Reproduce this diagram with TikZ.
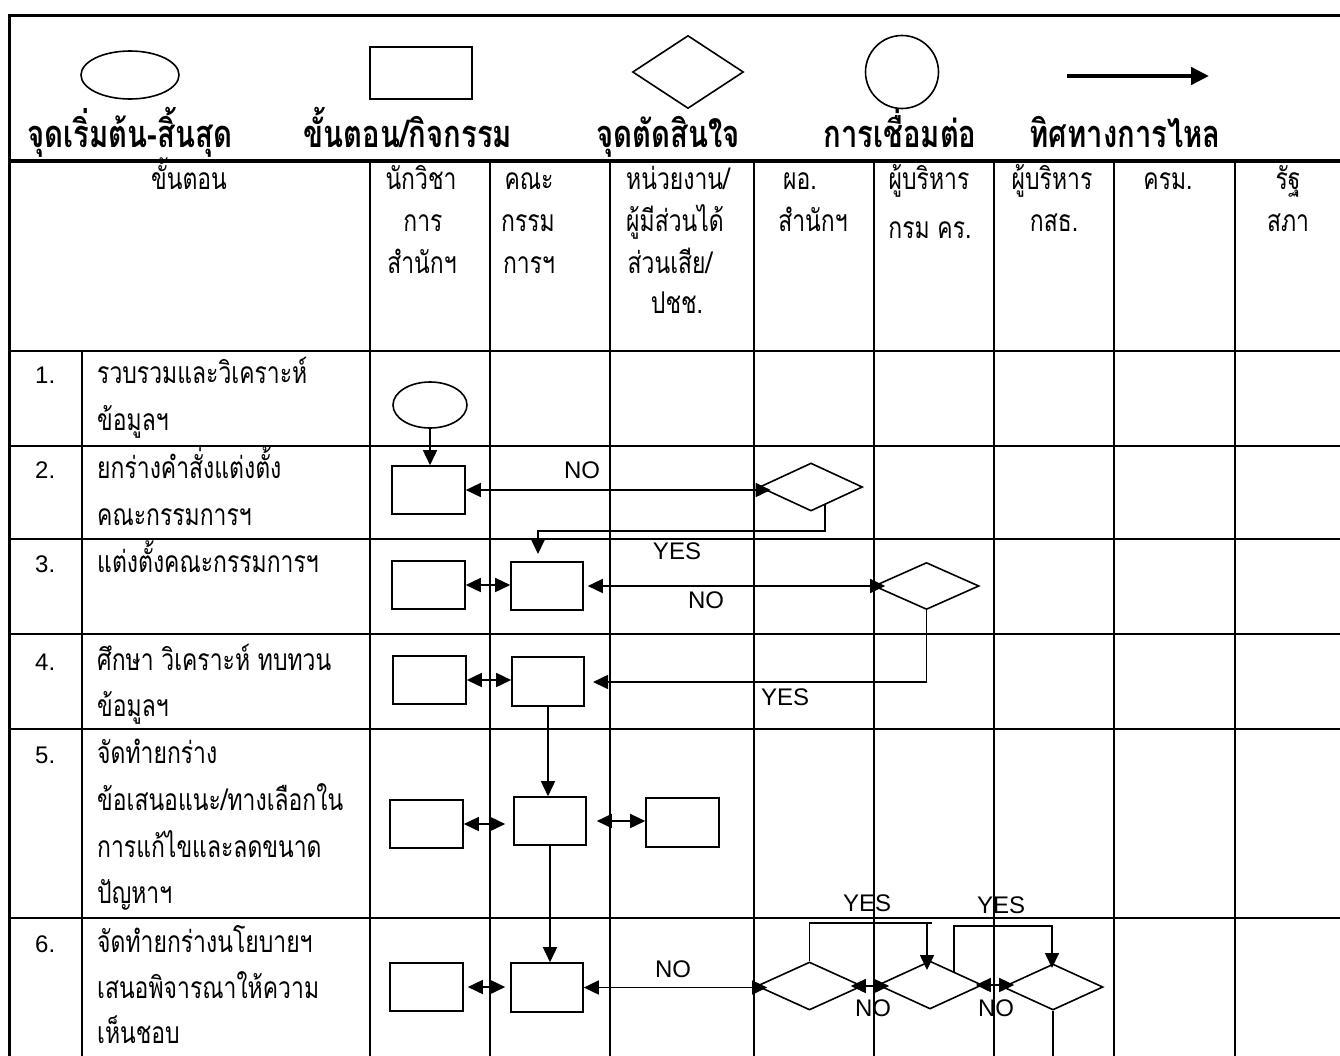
\documentclass[tikz,border=0pt]{standalone}
\usepackage{fontspec}
\setmainfont{Liberation Sans}
\newfontfamily\thai[Script=Thai,FakeStretch=0.765]{Loma}
\newfontfamily\thaib[Script=Thai,FakeStretch=0.77]{Loma}
\usetikzlibrary{shapes.geometric,arrows.meta,calc}
\begin{document}
\begin{tikzpicture}[x=1pt,y=-1pt,
  >={Triangle[length=15pt,width=14pt]},
  gridl/.style={line width=2.2pt},
  shp/.style={draw,line width=1.6pt,inner sep=0pt},
  box/.style={shp,rectangle,minimum width=73pt,minimum height=48pt},
  dec/.style={shp,diamond,minimum width=104pt,minimum height=48pt},
  conn/.style={line width=1.6pt},
  th/.style={font=\thai\fontsize{30}{32}\selectfont,inner sep=0pt},
  thl/.style={th,anchor=base west},
  thc/.style={th,anchor=base},
  lg/.style={font=\thaib\bfseries\fontsize{38}{40}\selectfont,inner sep=0pt,anchor=base},
  lat/.style={font=\fontsize{24}{26}\selectfont,inner sep=0pt,anchor=base},
  num/.style={font=\fontsize{24}{26}\selectfont,inner sep=0pt,anchor=base west},
]
\useasboundingbox (0,0) rectangle (1340,1055);
\clip (0,0) rectangle (1340,1055);
\fill[white] (0,0) rectangle (1340,1055);

% ---------- legend ----------
\node[shp,ellipse,minimum width=98pt,minimum height=48pt] (lgE) at (130,75) {};
\node[shp,rectangle,minimum width=102pt,minimum height=52pt] (lgR) at (421,73) {};
\node[shp,diamond,minimum width=111pt,minimum height=73pt] (lgD) at (688,72) {};
\node[shp,circle,minimum size=73pt] (lgC) at (902,72) {};
\coordinate (lgA1) at (1067,76);
\coordinate (lgA2) at (1209,76);
\draw[line width=4.5pt,-{Triangle[length=18pt,width=17pt]}] (lgA1) -- (lgA2);
\node[lg] (lgt1) at (130,147) {จุดเริ่มต้น-สิ้นสุด};
\node[lg] (lgt2) at (408,147) {ขั้นตอน/กิจกรรม};
\node[lg] (lgt3) at (668,147) {จุดตัดสินใจ};
\node[lg] (lgt4) at (900,147) {การเชื่อมต่อ};
\node[lg] (lgt5) at (1125,147) {ทิศทางการไหล};

% ---------- grid ----------
\draw[line width=3pt,line join=miter] (9,1070) -- (9,15) -- (1360,15);
\draw[line width=3.5pt] (9,161) -- (1360,161);
\foreach \yy in {351,446,539,634,729,918} \draw[gridl] (9,\yy) -- (1360,\yy);
\foreach \xx in {370,490,610,754,874,994,1114,1235} \draw[gridl] (\xx,161) -- (\xx,1070);
\draw[gridl] (82,351) -- (82,1070);

% ---------- header ----------
\node[thc] (h0) at (189,189) {ขั้นตอน};
\node[thc] (h1a) at (421,189) {นักวิชา};
\node[thc] (h1b) at (423,231) {การ};
\node[thc] (h1c) at (422,273) {สำนักฯ};
\node[thc] (h2a) at (529,189) {คณะ};
\node[thc] (h2b) at (528,231) {กรรม};
\node[thc] (h2c) at (529,273) {การฯ};
\node[thc] (h3a) at (678,189) {หน่วยงาน/};
\node[thc] (h3b) at (675,231) {ผู้มีส่วนได้};
\node[thc] (h3c) at (670,273) {ส่วนเสีย/};
\node[thc] (h3d) at (677,313) {ปชช.};
\node[thc] (h4a) at (800,189) {ผอ.};
\node[thc] (h4b) at (813,231) {สำนักฯ};
\node[thc] (h5a) at (929,189) {ผู้บริหาร};
\node[thc] (h5b) at (930,238) {กรม คร.};
\node[thc] (h6a) at (1052,189) {ผู้บริหาร};
\node[thc] (h6b) at (1054,231) {กสธ.};
\node[thc] (h7a) at (1168,189) {ครม.};
\node[thc] (h8a) at (1288,189) {รัฐ};
\node[thc] (h8b) at (1288,231) {สภา};

% ---------- step column ----------
\node[num] (n1) at (35,383) {1.};
\node[num] (n2) at (35,478) {2.};
\node[num] (n3) at (35,572) {3.};
\node[num] (n4) at (35,670) {4.};
\node[num] (n5) at (35,763) {5.};
\node[num] (n6) at (35,952) {6.};
\node[thl] (s1a) at (97,383) {รวบรวมและวิเคราะห์};
\node[thl] (s1b) at (97,430) {ข้อมูลฯ};
\node[thl] (s2a) at (97,478) {ยกร่างคำสั่งแต่งตั้ง};
\node[thl] (s2b) at (97,525) {คณะกรรมการฯ};
\node[thl] (s3a) at (97,572) {แต่งตั้งคณะกรรมการฯ};
\node[thl] (s4a) at (97,670) {ศึกษา วิเคราะห์ ทบทวน};
\node[thl] (s4b) at (97,716) {ข้อมูลฯ};
\node[thl] (s5a) at (97,763) {จัดทำยกร่าง};
\node[thl] (s5b) at (97,810) {ข้อเสนอแนะ/ทางเลือกใน};
\node[thl] (s5c) at (97,857) {การแก้ไขและลดขนาด};
\node[thl] (s5d) at (97,903) {ปัญหาฯ};
\node[thl] (s6a) at (97,952) {จัดทำยกร่างนโยบายฯ};
\node[thl] (s6b) at (97,998) {เสนอพิจารณาให้ความ};
\node[thl] (s6c) at (97,1043) {เห็นชอบ};

% ---------- flow shapes ----------
\node[shp,ellipse,minimum width=74pt,minimum height=46pt] (st) at (430,405) {};
\node[box] (r2) at (428.5,490) {};
\node[dec,minimum width=103pt] (d2) at (811,487) {};
\node[box] (r3a) at (428.5,585) {};
\node[box,minimum width=72pt] (r3b) at (547,586) {};
\node[dec,minimum width=105pt,minimum height=47pt] (d3) at (926.5,586) {};
\node[box] (r4a) at (429.5,680) {};
\node[box,minimum width=72pt,minimum height=49pt] (r4b) at (548,681.5) {};
\node[box] (r5a) at (426.5,824) {};
\node[box,minimum width=72pt] (r5b) at (550,821) {};
\node[box,minimum height=49pt] (r5c) at (682.5,822.5) {};
\node[box] (r6a) at (426.5,987) {};
\node[box,minimum width=72pt,minimum height=49pt] (r6b) at (547,987.5) {};
\node[dec,minimum width=105pt] (d6a) at (809.5,986) {};
\node[dec] (d6b) at (930,985) {};
\node[dec,minimum width=100pt,minimum height=46pt] (d6c) at (1053,987) {};

% ---------- connectors ----------
\draw[conn,->] (st.south) -- (st.south |- r2.north);
\coordinate (d2w) at ([xshift=12pt]d2.west);
\draw[conn,<->] (r2.east) -- (r2.east -| d2w);
\coordinate (d2y) at (825,504);
\coordinate (r3bin) at (538,554);
\draw[conn,->] (d2y) -- (825,531) -| (r3bin);

\draw[conn,<->] (r3a.east) -- (r3a.east -| r3b.west);
\coordinate (d3w) at ([xshift=12pt]d3.west);
\draw[conn,<->,shorten <=4pt] (r3b.east) -- (r3b.east -| d3w);
\coordinate (r4bin) at (593,682);
\draw[conn,->] (d3.south) |- (r4bin);

\draw[conn,<->] (r4a.east) -- (r4a.east -| r4b.west);
\draw[conn,->] (r4b.south) -- (r4b.south |- r5b.north);

\draw[conn,<->,shorten >=8pt] (r5a.east) -- (r5a.east -| r5b.west);
\draw[conn,<->,shorten <=10pt] (r5b.east) -- (r5b.east -| r5c.west);
\draw[conn,->] (r5b.south) -- (r5b.south |- r6b.north);

\draw[conn,<->,shorten >=5pt,shorten <=4pt] (r6a.east) -- (r6a.east -| r6b.west);
\coordinate (d6aw) at ([xshift=11pt]d6a.west);
\draw[conn,<->] (r6b.east) -- (r6b.east -| d6aw);
\coordinate (d6ae) at ([xshift=-12pt]d6a.east);
\coordinate (d6bw) at ([xshift=12pt]d6b.west);
\draw[conn,<->] (d6ae) -- (d6ae -| d6bw);
\coordinate (d6be) at ([xshift=-7pt]d6b.east);
\coordinate (d6cw) at ([xshift=12pt]d6c.west);
\draw[conn,<->] (d6be) -- (d6be -| d6cw);
\coordinate (d6bin) at (927,970);
\draw[conn,->] (d6a.north) |- (932,923) (927,923) -- (d6bin);
\coordinate (d6bq) at (954,972);
\coordinate (d6cin) at (1052,968);
\draw[conn,->] (d6bq) |- (1052,926) -- (d6cin);
\coordinate (d6cend) at (1053,1070);
\draw[conn] (d6c.south) -- (d6cend);

% ---------- labels ----------
\node[lat] (no2) at (582,478) {NO};
\node[lat] (yes3) at (677,559) {YES};
\node[lat] (no3) at (706,608) {NO};
\node[lat] (yes4) at (785,705) {YES};
\node[lat] (no6) at (673,977) {NO};
\node[lat] (yes6a) at (867,911) {YES};
\node[lat] (yes6b) at (1001,913) {YES};
\node[lat] (no6a) at (873,1016) {NO};
\node[lat] (no6b) at (996,1016) {NO};
\end{tikzpicture}
\end{document}
